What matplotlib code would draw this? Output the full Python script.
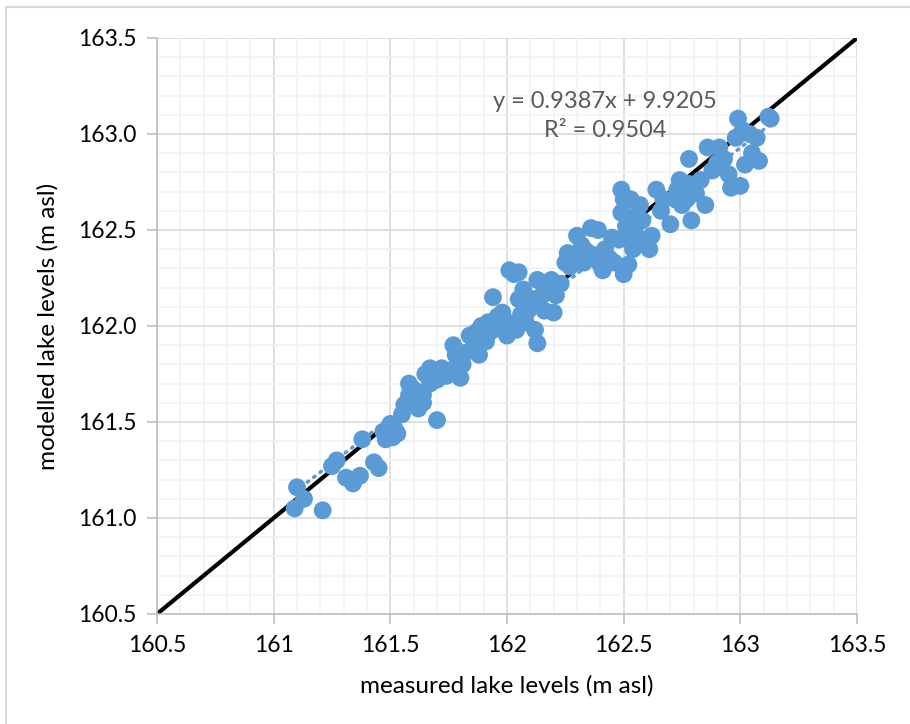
import matplotlib
matplotlib.use("Agg")
import matplotlib.pyplot as plt
from matplotlib.ticker import MultipleLocator
from matplotlib.lines import Line2D

# measured vs modelled lake levels (m asl)
measured = [
    161.09, 161.10, 161.13, 161.21, 161.25, 161.27, 161.31, 161.34, 161.37, 161.38,
    161.43, 161.45, 161.47, 161.48, 161.50, 161.51, 161.52, 161.53, 161.55, 161.56,
    161.58, 161.58, 161.60, 161.61, 161.62, 161.64, 161.64, 161.65, 161.67, 161.67,
    161.70, 161.70, 161.72, 161.74, 161.76, 161.77, 161.78, 161.80, 161.81, 161.82,
    161.84, 161.86, 161.87, 161.88, 161.89, 161.91, 161.92, 161.94, 161.94, 161.96,
    161.97, 161.98, 162.00, 162.00, 162.01, 162.03, 162.04, 162.05, 162.06, 162.07,
    162.08, 162.09, 162.05, 162.11, 162.12, 162.13, 162.13, 162.15, 162.16, 162.18,
    162.19, 162.20, 162.21, 162.23, 162.25, 162.26, 162.27, 162.29, 162.30, 162.32,
    162.33, 162.34, 162.36, 162.37, 162.39, 162.40, 162.41, 162.42, 162.44, 162.45,
    162.46, 162.48, 162.49, 162.49, 162.50, 162.50, 162.51, 162.52, 162.53, 162.53,
    162.54, 162.54, 162.55, 162.57, 162.58, 162.60, 162.61, 162.62, 162.64, 162.66,
    162.67, 162.70, 162.72, 162.73, 162.74, 162.75, 162.77, 162.78, 162.78, 162.79,
    162.81, 162.83, 162.85, 162.86, 162.88, 162.90, 162.91, 162.93, 162.95, 162.96,
    162.98, 162.99, 163.00, 163.01, 163.02, 163.04, 163.05, 163.07, 163.08, 163.12,
    163.13,
]
modelled = [
    161.05, 161.16, 161.10, 161.04, 161.27, 161.30, 161.21, 161.18, 161.22, 161.41,
    161.29, 161.26, 161.45, 161.41, 161.49, 161.42, 161.46, 161.44, 161.54, 161.59,
    161.64, 161.70, 161.67, 161.61, 161.57, 161.60, 161.64, 161.75, 161.70, 161.78,
    161.51, 161.72, 161.78, 161.74, 161.77, 161.90, 161.85, 161.73, 161.80, 161.86,
    161.95, 161.90, 161.97, 161.85, 162.00, 161.92, 162.02, 162.15, 161.98, 162.05,
    161.99, 162.07, 162.02, 161.95, 162.29, 162.27, 161.98, 162.14, 162.06, 162.19,
    162.02, 162.08, 162.28, 162.14, 161.98, 161.91, 162.24, 162.16, 162.08, 162.19,
    162.24, 162.07, 162.16, 162.22, 162.33, 162.38, 162.31, 162.35, 162.47, 162.42,
    162.33, 162.39, 162.51, 162.37, 162.50, 162.32, 162.29, 162.40, 162.35, 162.46,
    162.33, 162.45, 162.59, 162.71, 162.66, 162.27, 162.52, 162.32, 162.66, 162.45,
    162.57, 162.40, 162.48, 162.63, 162.55, 162.45, 162.40, 162.47, 162.71, 162.60,
    162.66, 162.53, 162.66, 162.71, 162.76, 162.63, 162.66, 162.74, 162.87, 162.55,
    162.69, 162.76, 162.63, 162.93, 162.81, 162.85, 162.93, 162.87, 162.79, 162.72,
    162.98, 163.08, 162.73, 163.02, 162.84, 163.00, 162.90, 162.98, 162.86, 163.09,
    163.08,
]

# trendline reported on the chart
slope = 0.9387
intercept = 9.9205
r2 = 0.9504

lims = [160.5, 163.5]
ticks = [160.5, 161, 161.5, 162, 162.5, 163, 163.5]
xtick_labels = ["160.5", "161", "161.5", "162", "162.5", "163", "163.5"]
ytick_labels = ["160.5", "161.0", "161.5", "162.0", "162.5", "163.0", "163.5"]

plt.rcParams['font.family'] = ['Lato', 'DejaVu Sans']

fig = plt.figure(figsize=(9.1, 7.24), dpi=100)
ax = fig.add_axes([157 / 910, 1 - 614 / 724, 700 / 910, 576 / 724])

# outer chart border (left and top edges visible)
fig.add_artist(Line2D([6 / 910, 6 / 910], [0, 1 - 7 / 724], transform=fig.transFigure,
                      color="#d9d9d9", lw=1.5))
fig.add_artist(Line2D([6 / 910, 1], [1 - 7 / 724, 1 - 7 / 724], transform=fig.transFigure,
                      color="#d9d9d9", lw=1.5))

ax.set_xlim(lims)
ax.set_ylim(lims)
ax.xaxis.set_minor_locator(MultipleLocator(0.1))
ax.yaxis.set_minor_locator(MultipleLocator(0.1))
ax.set_xticks(ticks)
ax.set_yticks(ticks)
ax.set_xticklabels(xtick_labels)
ax.set_yticklabels(ytick_labels)
ax.grid(which="minor", color="#f2f2f2", lw=1.2, zorder=0)
ax.grid(which="major", color="#d9d9d9", lw=1.2, zorder=0)
ax.set_axisbelow(True)

for s in ["top", "right"]:
    ax.spines[s].set_visible(False)
for s in ["left", "bottom"]:
    ax.spines[s].set_color("#bfbfbf")
    ax.spines[s].set_linewidth(1.2)
ax.tick_params(which="major", length=7, color="#bfbfbf", width=1.2,
               labelsize=16.5, labelcolor="#000000", pad=8)
ax.tick_params(which="minor", length=0)

# 1:1 line
ax.plot(lims, lims, color="black", lw=3, zorder=2, solid_capstyle="butt")

# trendline
tx = [min(measured), max(measured)]
ax.plot(tx, [slope * v + intercept for v in tx], color="#5b9bd5", lw=2.5,
        linestyle=(0, (0.5, 1.8)), dash_capstyle="round", zorder=2)

ax.scatter(measured, modelled, s=165, color="#5b9bd5", edgecolors="none", zorder=3)

ax.text(162.42, 163.17, "y = 0.9387x + 9.9205", ha="center", va="center",
        fontsize=17, color="#595959")
ax.text(162.42, 163.02, "R² = %.4f" % r2, ha="center", va="center",
        fontsize=17, color="#595959")

ax.set_xlabel("measured lake levels (m asl)", fontsize=17.5, labelpad=14)
ax.set_ylabel("modelled lake levels (m asl)", fontsize=17.5, labelpad=14)

fig.savefig("out.png", dpi=100)
